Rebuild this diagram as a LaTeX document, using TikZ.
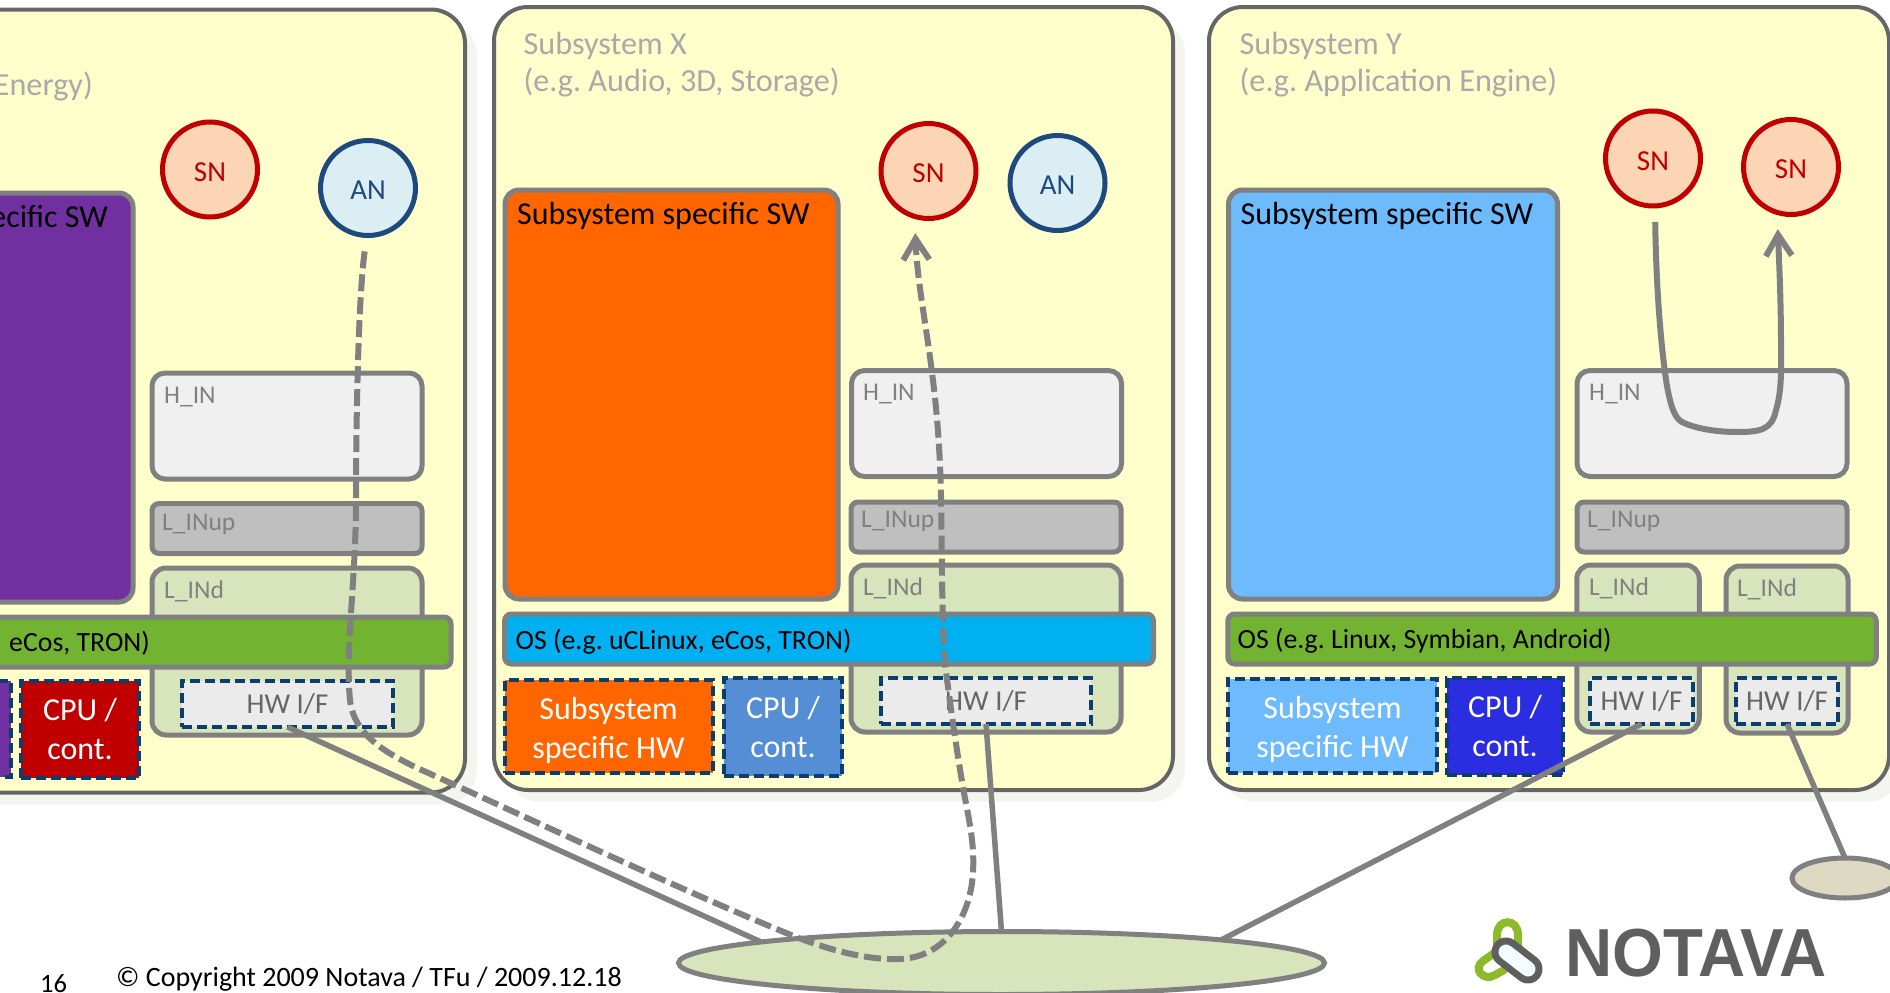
\documentclass[tikz,border=0pt]{standalone}
\usepackage{fontspec}
\setmainfont{Carlito}
\newfontfamily\logofont{Liberation Sans}
\usepackage{tikz}
\usetikzlibrary{arrows.meta,shapes.geometric}
\frenchspacing
\definecolor{NvGrey}{HTML}{808080}
\definecolor{NvEdge}{HTML}{666666}
\definecolor{NvNavy}{HTML}{0B3D6F}
\definecolor{NvTitle}{HTML}{A9A9A9}
\definecolor{NvYellow}{HTML}{FFFFCC}
\definecolor{NvShade}{HTML}{F5F5EF}
\definecolor{NvRed}{HTML}{C00000}
\definecolor{NvPeach}{HTML}{FCD5B5}
\definecolor{NvBlue}{HTML}{1F497D}
\definecolor{NvIce}{HTML}{DBEEF4}
\definecolor{NvGreen}{HTML}{72B332}
\definecolor{NvCyan}{HTML}{00B0F0}
\definecolor{NvOrange}{HTML}{FF6600}
\definecolor{NvSky}{HTML}{6DBBFC}
\definecolor{NvPurple}{HTML}{7030A0}
\definecolor{NvLeaf}{HTML}{D8E4BC}
\definecolor{NvSand}{HTML}{DDD9C3}
\definecolor{NvSteel}{HTML}{558ED5}
\definecolor{NvCobalt}{HTML}{2A2DE0}
\definecolor{NvLogoGreen}{HTML}{8DB92A}
\definecolor{NvLogoGrey}{HTML}{5F5F5F}
\begin{document}
\begin{tikzpicture}[x=1pt,y=-1pt]
      \tikzstyle{panelshadow}=[rectangle, rounded corners=34pt, fill=NvShade, minimum width=679pt, minimum height=783pt, outer sep=0pt];
      \tikzstyle{panel}=[rectangle, rounded corners=34pt, draw=NvEdge, line width=4pt, fill=NvYellow, minimum width=679pt, minimum height=783pt, outer sep=0pt];
      \tikzstyle{swbox}=[rectangle, rounded corners=14pt, draw=NvGrey, line width=5pt, minimum width=333pt, minimum height=409pt, outer sep=0pt];
      \tikzstyle{hin}=[rectangle, rounded corners=13pt, draw=NvGrey, line width=5pt, fill=black!6, minimum width=270pt, minimum height=106pt, outer sep=0pt];
      \tikzstyle{linup}=[rectangle, rounded corners=7pt, draw=NvGrey, line width=5pt, fill=black!25, minimum width=270pt, minimum height=50pt, outer sep=0pt];
      \tikzstyle{lind}=[rectangle, rounded corners=14pt, draw=NvGrey, line width=5pt, fill=NvLeaf, minimum width=270pt, minimum height=167pt, outer sep=0pt];
      \tikzstyle{osbar}=[rectangle, rounded corners=7pt, draw=NvGrey, line width=5pt, minimum height=50pt, outer sep=0pt];
      \tikzstyle{hwif}=[rectangle, draw=NvNavy, line width=4pt, dash pattern=on 10pt off 5pt, fill=black!8, minimum width=211pt, minimum height=46pt, outer sep=0pt, text=NvEdge, font=\fontsize{28.8}{34}\selectfont, inner sep=0pt];
      \tikzstyle{hwblk}=[rectangle, draw=NvNavy, line width=4pt, dash pattern=on 10pt off 5pt, text=white, align=center, outer sep=0pt, inner sep=0pt, font=\fontsize{32}{39}\selectfont];
      \tikzstyle{sn}=[circle, draw=NvRed, line width=5pt, fill=NvPeach, minimum size=95pt, outer sep=16pt, inner sep=0pt, text=NvRed, text height=23.5pt, text depth=0pt, font=\fontsize{29}{34}\selectfont];
      \tikzstyle{an}=[circle, draw=NvBlue, line width=5pt, fill=NvIce, minimum size=95pt, outer sep=16pt, inner sep=0pt, text=NvBlue, text height=23.5pt, text depth=0pt, font=\fontsize{29}{34}\selectfont];
      \tikzstyle{net}=[ellipse, draw=NvGrey, line width=5pt, inner sep=0pt, outer sep=0pt];
      \tikzstyle{title}=[anchor=base west, inner sep=0pt, text=NvTitle, font=\fontsize{32.2}{38}\selectfont];
      \tikzstyle{inlbl}=[anchor=base west, inner sep=0pt, text=NvGrey, font=\fontsize{25.5}{30}\selectfont];
      \tikzstyle{blacklbl}=[anchor=base west, inner sep=0pt, text=black, font=\fontsize{32}{38}\selectfont];
      \tikzstyle{oslbl}=[anchor=base west, inner sep=0pt, text=black, font=\fontsize{27.8}{34}\selectfont];
      \tikzstyle{wire}=[draw=NvGrey, line width=5.5pt];
      \tikzstyle{route}=[draw=NvGrey, line width=6pt, -{Straight Barb[length=21pt,width=26pt,line width=6pt]}];
      \tikzstyle{dashroute}=[route, dash pattern=on 17pt off 6pt];

      \clip (0,0) rectangle (1890,993);

      \node[panelshadow, minimum width=565pt] (shA) at (194.5,413) {};
      \node[panelshadow] (shX) at (845.5,410.5) {};
      \node[panelshadow, minimum width=680pt] (shY) at (1561,410.5) {};

      \node[panel, minimum width=565pt] (panelA) at (182.5,401) {};
      \node[panel] (panelX) at (833.5,398.5) {};
      \node[panel, minimum width=680pt] (panelY) at (1549,398.5) {};

      \node[title, anchor=base east] (titleA) at (93,95) {Energy)};
      \node[title] (titleXa) at (523.5,54) {Subsystem X};
      \node[title] (titleXb) at (523.5,91) {(e.g. Audio, 3D, Storage)};
      \node[title] (titleYa) at (1239.5,54) {Subsystem Y};
      \node[title] (titleYb) at (1239.5,91) {(e.g. Application Engine)};

      \node[swbox, fill=NvPurple] (swA) at (-33.5,397.5) {};
      \node[swbox, fill=NvOrange] (swX) at (671.5,394.5) {};
      \node[swbox, fill=NvSky, minimum width=329pt] (swY) at (1393,394.5) {};
      \node[blacklbl, anchor=base east] (swAt) at (108,227) {ecific SW};
      \node[blacklbl] (swXt) at (517,224) {Subsystem specific SW};
      \node[blacklbl] (swYt) at (1240.5,224) {Subsystem specific SW};

      \node[sn] (snA) at (210,169.5) {SN};
      \node[an] (anA) at (368,188) {AN};
      \node[sn] (snX) at (928.5,171) {SN};
      \node[an] (anX) at (1057.5,183) {AN};
      \node[sn] (snYa) at (1653,158.5) {SN};
      \node[sn] (snYb) at (1791,167) {SN};

      \node[hin] (hinA) at (287,426) {};
      \node[hin] (hinX) at (986.5,423.5) {};
      \node[hin] (hinY) at (1712,423.5) {};
      \node[inlbl] (hinAt) at (164,403) {H\_IN};
      \node[inlbl] (hinXt) at (863,400) {H\_IN};
      \node[inlbl] (hinYt) at (1589,400) {H\_IN};

      \node[linup] (upA) at (287,528.5) {};
      \node[linup] (upX) at (986,527) {};
      \node[linup] (upY) at (1712,527) {};
      \node[inlbl] (upAt) at (162,530) {L\_INup};
      \node[inlbl] (upXt) at (861,527) {L\_INup};
      \node[inlbl] (upYt) at (1587,527) {L\_INup};

      \node[lind] (indA) at (287,651.5) {};
      \node[lind] (indX) at (986,648.5) {};
      \node[lind, minimum width=122.5pt] (indYa) at (1638,648.5) {};
      \node[lind, minimum width=122pt] (indYb) at (1787,649.5) {};
      \node[inlbl] (indAt) at (164,598) {L\_INd};
      \node[inlbl] (indXt) at (863,595) {L\_INd};
      \node[inlbl] (indYat) at (1589,595) {L\_INd};
      \node[inlbl] (indYbt) at (1737,596) {L\_INd};

      \node[osbar, fill=NvGreen, minimum width=551pt] (osA) at (175.5,642) {};
      \node[osbar, fill=NvCyan, minimum width=649pt] (osX) at (829,639) {};
      \node[osbar, fill=NvGreen, minimum width=648.5pt] (osY) at (1552,639) {};
      \node[oslbl, anchor=base east] (osAt) at (150,651) {eCos, TRON)};
      \node[oslbl] (osXt) at (515.5,649) {OS (e.g. uCLinux, eCos, TRON)};
      \node[oslbl] (osYt) at (1237.5,648) {OS (e.g. Linux, Symbian, Android)};

      \node[hwif] (hwA) at (287.5,704) {HW I/F};
      \node[hwif, minimum width=210.5pt] (hwX) at (986,701) {HW I/F};
      \node[hwif, minimum width=103pt] (hwYa) at (1641.5,701) {HW I/F};
      \node[hwif, minimum width=102.5pt] (hwYb) at (1787,701) {HW I/F};

      \node[hwblk, fill=NvPurple, minimum width=111pt, minimum height=96pt] (subA) at (-44.5,729) {};
      \node[hwblk, fill=NvRed, minimum width=118pt, minimum height=97pt] (cpuA) at (80,729.5) {CPU /\\cont.};
      \node[hwblk, fill=NvOrange, minimum width=208pt, minimum height=93pt] (subX) at (608.5,726.5) {\rule{0pt}{30pt}Subsystem\\specific HW};
      \node[hwblk, fill=NvSteel, minimum width=118pt, minimum height=98pt] (cpuX) at (783,727) {CPU /\\cont.};
      \node[hwblk, fill=NvSky, minimum width=209pt, minimum height=94pt] (subY) at (1332.5,726) {\rule{0pt}{30pt}Subsystem\\specific HW};
      \node[hwblk, fill=NvCobalt, minimum width=116.5pt, minimum height=97pt] (cpuY) at (1505,726.5) {CPU /\\cont.};

      \node[net, fill=NvLeaf, minimum width=646pt, minimum height=63pt] (netMain) at (1001.5,963) {};
      \node[net, fill=NvSand, minimum width=106pt, minimum height=40pt] (netSmall) at (1845,878) {};

      \draw[wire] (hwA.south) -- (netMain.175);
      \draw[wire] (hwX.south) -- (netMain.90);
      \draw[wire] (hwYa.south) -- (netMain.6);
      \draw[wire] (hwYb.south) -- (netSmall.north);

      \draw[dashroute] (anA.267) .. controls (358,300) and (356,430) .. (356,500)
        .. controls (356,580) and (345,650) .. (350,700)
        .. controls (354,735) and (385,752) .. (415,767)
        .. controls (540,823) and (680,890) .. (796,937)
        .. controls (835,952) and (870,960) .. (899,959)
        .. controls (940,958) and (966,925) .. (972,883)
        .. controls (976,850) and (970,825) .. (964,793)
        .. controls (958,760) and (948,690) .. (945,663)
        .. controls (942,630) and (942,560) .. (941,497)
        .. controls (940,440) and (935,395) .. (932,373)
        .. controls (927,330) and (917,280) .. (snX.258);

      \draw[route] (snYa.272) .. controls (1656,280) and (1660,340) .. (1666.5,383)
        .. controls (1671,410) and (1676,420) .. (1684,423)
        .. controls (1700,430) and (1722,432) .. (1737,432)
        .. controls (1760,432) and (1772,430) .. (1776,410)
        .. controls (1782,390) and (1781,370) .. (1781,345)
        .. controls (1781,300) and (1779,260) .. (snYb.258);

      \node[anchor=base west, inner sep=0pt, font=\fontsize{26.5}{32}\selectfont] (pageNum) at (40,992) {16};
      \node[anchor=base west, inner sep=0pt, font=\fontsize{28}{32}\selectfont] (copyNote) at (116,986) {© Copyright 2009 Notava / TFu / 2009.12.18};
      \node[anchor=base west, inner sep=0pt, xscale=.96, text=NvLogoGrey, font=\logofont\bfseries\fontsize{68}{70}\selectfont] (logoText) at (1565,976) {NOTAVA};

      \draw[line width=8pt, NvLogoGreen, line cap=round] (1518,950) -- (1518,935) .. controls (1518,918) and (1497,918) .. (1497,935) -- (1497,951) -- (1483,961) .. controls (1472,969) and (1484,982) .. (1495,975) -- (1504,970);
      \draw[line width=29pt, NvLogoGrey, line cap=round] (1506,952) -- (1528,969);
      \draw[line width=15pt, white!96!cyan, line cap=round] (1506,952) -- (1528,969);
    \end{tikzpicture}
\end{document}
